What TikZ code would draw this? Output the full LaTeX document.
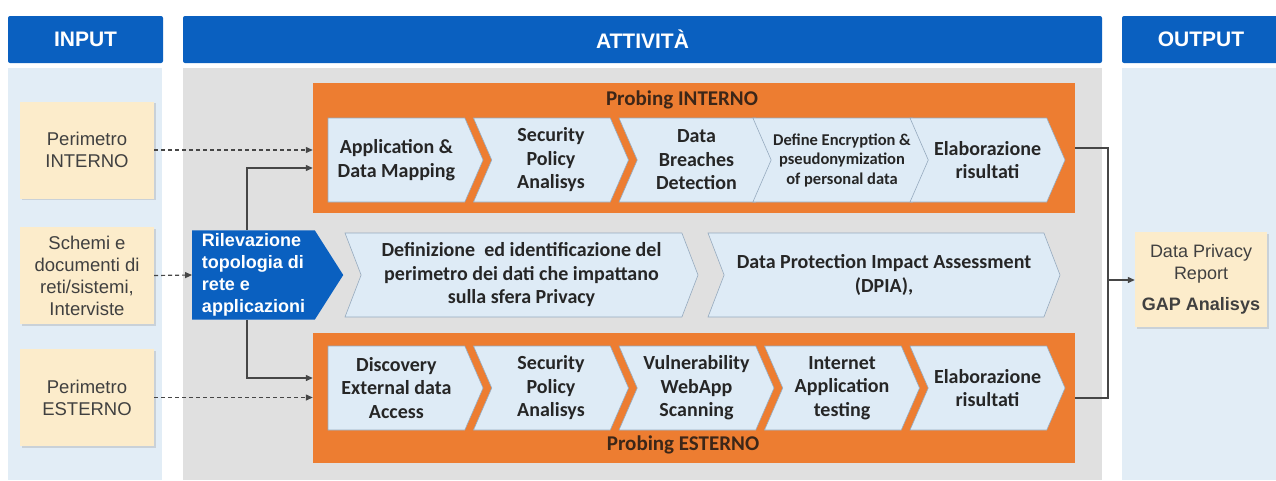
\documentclass[tikz,border=0pt]{standalone}
\usepackage{fontspec}
\setmainfont{Liberation Sans}
\newfontfamily\calibri{Carlito}
\usetikzlibrary{arrows.meta,shapes.symbols,shadows,calc}
\definecolor{hdrblue}{RGB}{10,96,192}
\definecolor{paleblue}{RGB}{226,237,246}
\definecolor{midgray}{RGB}{224,224,224}
\definecolor{probeor}{RGB}{237,125,49}
\definecolor{chevfill}{RGB}{222,235,246}
\definecolor{chevline}{RGB}{150,170,190}
\definecolor{beige}{RGB}{252,236,203}
\definecolor{txtdark}{RGB}{38,38,38}
\definecolor{inktxt}{RGB}{64,64,64}
\definecolor{probetxt}{RGB}{60,38,24}
\definecolor{lnk}{RGB}{70,70,70}
\tikzset{
  hdr/.style     ={rectangle, rounded corners=2pt, fill=hdrblue, text=white, minimum height=47,
                   font=\bfseries\fontsize{21}{25}\selectfont},
  inbox/.style   ={rectangle, fill=beige, minimum width=134, minimum height=97, align=center,
                   text=inktxt, font=\fontsize{18.5}{22}\selectfont,
                   drop shadow={shadow xshift=1.5pt, shadow yshift=-1.5pt, opacity=.25}},
  probe/.style   ={rectangle, fill=probeor, minimum width=762, minimum height=130},
  ptitle/.style  ={text=probetxt, font=\calibri\bfseries\fontsize{21}{25}\selectfont},
  chev/.style    ={signal, signal to=east, signal from=west, signal pointer angle=133,
                   fill=chevfill, draw=chevline, line width=.6pt, minimum width=155,
                   minimum height=84, inner sep=2pt, align=center, text=txtdark,
                   font=\calibri\bfseries\fontsize{20}{23.5}\selectfont},
  chevfirst/.style={chev, signal from=nowhere},
  topo/.style    ={signal, signal to=east, signal from=nowhere, signal pointer angle=115,
                   fill=hdrblue, minimum width=151, minimum height=88, align=left, text=white,
                   font=\bfseries\fontsize{18}{22}\selectfont},
  outbox/.style  ={rectangle, fill=beige, minimum width=132, minimum height=95, align=center,
                   text=inktxt, font=\fontsize{18}{22}\selectfont,
                   drop shadow={shadow xshift=1.5pt, shadow yshift=-1.5pt, opacity=.25}},
  arr/.style     ={-{Triangle[length=7pt,width=6pt]}, line width=1.2pt, draw=lnk},
  dasharr/.style ={arr, dash pattern=on 4pt off 3pt},
  ln/.style      ={line width=1.2pt, draw=lnk},
}
\begin{document}
\begin{tikzpicture}[x=1pt, y=-1pt]
\useasboundingbox (0,0) rectangle (1276,480);
% columns
\fill[paleblue] (8,68) rectangle (162,480);
\fill[midgray] (183,68) rectangle (1102,480);
\fill[paleblue] (1122,68) rectangle (1276,480);
\node[hdr, minimum width=155] (hin) at (85.5,39.5) {INPUT};
\node[hdr, minimum width=919] (hact) at (642.5,39.5) {ATTIVITÀ};
\node[hdr, minimum width=158] (hout) at (1201,39.5) {OUTPUT};

% input
\node[inbox] (pint) at (87,150) {Perimetro\\INTERNO};
\node[inbox] (docs) at (87,275.5) {Schemi e\\documenti di\\reti/sistemi,\\Interviste};
\node[inbox] (pest) at (87,397.5) {Perimetro\\ESTERNO};

% probing
\node[probe] (prin) at (694,148) {};
\node[probe] (pres) at (694,398) {};
\node[ptitle] (tin) at (682,100) {Probing INTERNO};
\node[ptitle] (tes) at (683,445) {Probing ESTERNO};

\node[chevfirst] (i1) at (396.4,160) {Application \&\\Data Mapping};
\node[chev] (i2) at (551,160) {Security\\Policy\\Analisys};
\node[chev] (i3) at (696.5,160) {Data\\Breaches\\Detection};
\node[chev, font=\calibri\bfseries\fontsize{16.5}{19.5}\selectfont] (i4) at (842,160)
  {Define Encryption \&\\pseudonymization\\of personal data};
\node[chev] (i5) at (987.5,160) {Elaborazione\\risultati};

\node[chevfirst] (e1) at (396.4,388) {Discovery\\External data\\Access};
\node[chev] (e2) at (551,388) {Security\\Policy\\Analisys};
\node[chev] (e3) at (696.5,388) {Vulnerability\\WebApp\\Scanning};
\node[chev] (e4) at (842,388) {Internet\\Application\\testing};
\node[chev] (e5) at (987.5,388) {Elaborazione\\risultati};

% middle row
\node[topo] (topo) at (253.5,275) {Rilevazione\\topologia di\\rete e\\applicazioni};
\node[chev, minimum width=353, signal pointer angle=138] (perim) at (521.5,275)
  {Definizione\ \ ed identificazione del\\perimetro dei dati che impattano\\sulla sfera Privacy};
\node[chev, minimum width=352, signal pointer angle=138] (dpia) at (884,275)
  {Data Protection Impact Assessment\\(DPIA),};

% output
\node[outbox] (rep) at (1201,279.5) {Data Privacy\\Report\\[9pt]\textbf{GAP Analisys}};

% links
\draw[dasharr] (pint.east) -- (pint.east -| prin.west);
\draw[dasharr] (docs.east) -- (topo.west);
\draw[dasharr] (pest.east) -- (pest.east -| pres.west);
\coordinate (tap) at (247,275);
\draw[arr] (tap |- topo.north) |- ([yshift=-20pt]prin.west);
\draw[arr] (tap |- topo.south) |- ([yshift=20pt]pres.west);
\coordinate (join) at (1108,280);
\draw[ln] (prin.east) -| (join);
\draw[ln] (pres.east) -| (join);
\draw[arr] (join) -- (join -| rep.west);
\end{tikzpicture}
\end{document}
